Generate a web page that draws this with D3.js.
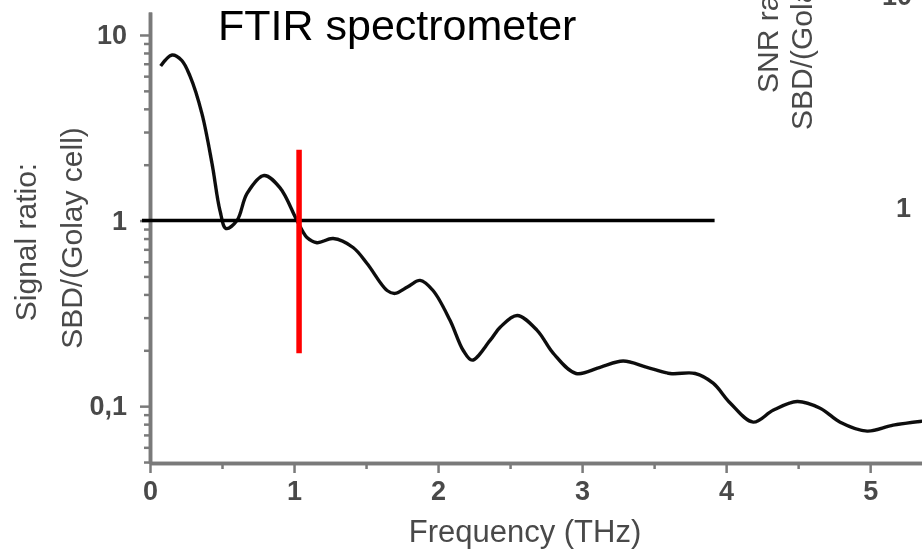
<!DOCTYPE html>
<html>
<head>
<meta charset="utf-8">
<script src="https://cdn.jsdelivr.net/npm/d3@7"></script>
<style>
  html, body { margin: 0; padding: 0; background: #fff; }
  svg { display: block; }
  text { font-family: "Liberation Sans", Arial, Helvetica, sans-serif; }
</style>
</head>
<body>
<svg id="chart" width="922" height="557"></svg>
<script>
// Signal ratio of SBD vs. Golay cell measured with an FTIR spectrometer
const freqTHz = [0.074, 0.153, 0.220, 0.278, 0.361, 0.431, 0.486, 0.528, 0.604, 0.674, 0.792,
  0.903, 1.021, 1.090, 1.160, 1.271, 1.410, 1.507, 1.646, 1.701, 1.790,
  1.875, 1.965, 2.083, 2.174, 2.236, 2.361, 2.431, 2.549, 2.688, 2.799,
  2.958, 3.125, 3.285, 3.451, 3.611, 3.785, 3.910, 4.028, 4.188, 4.326,
  4.493, 4.653, 4.792, 4.979, 5.160, 5.361];
const signalRatio = [6.8, 7.8, 7.3, 6.0, 3.76, 2.02, 1.13, 0.906, 1.0, 1.40, 1.75,
  1.50, 1.0, 0.81, 0.76, 0.80, 0.716, 0.587, 0.42, 0.405, 0.44,
  0.476, 0.42, 0.29, 0.20, 0.177, 0.226, 0.266, 0.308, 0.256, 0.193,
  0.150, 0.162, 0.175, 0.162, 0.150, 0.150, 0.133, 0.104, 0.082, 0.095,
  0.106, 0.0975, 0.082, 0.0734, 0.079, 0.083];

const xTickValues = [0, 1, 2, 3, 4, 5];
const xTickLabels = ["0", "1", "2", "3", "4", "5"];
const yTickValues = [0.1, 1, 10];
const yTickLabels = ["0,1", "1", "10"];

// Reference markers: unity ratio line and crossover frequency
const unityLine = { from: -0.056, to: 3.92, value: 1 };
const crossover = { freq: 1.035, low: 0.193, high: 2.41 };

const W = 922, H = 557;
const margin = { left: 150, top: 12, bottom: 94 };
const plotBottom = H - margin.bottom;

const svg = d3.select("#chart");

const x = d3.scaleLinear().domain([0, 5.36]).range([margin.left, W]);
const y = d3.scaleLog().domain([0.0494, 13.3]).range([plotBottom, margin.top]);

// soft rendering for the underlying plot
const defs = svg.append("defs");
defs.append("filter").attr("id", "soft")
  .append("feGaussianBlur").attr("stdDeviation", 0.55);

const base = svg.append("g").attr("filter", "url(#soft)");

const axisColor = "#7a7a7a";
const labelColor = "#4a4a4a";

function styleAxis(g, withLabels) {
  g.select(".domain").attr("stroke", axisColor).attr("stroke-width", 3.5);
  g.selectAll(".tick line").attr("stroke", axisColor).attr("stroke-width", 2.5);
  if (withLabels) {
    g.selectAll(".tick text")
      .attr("fill", labelColor)
      .style("font-size", "27px")
      .style("font-weight", "bold");
  } else {
    g.selectAll(".tick text").remove();
  }
}

// x axis: minor ticks, then major ticks with labels
const xMinor = x.ticks(10).filter(d => !xTickValues.includes(d));
base.append("g")
  .attr("transform", `translate(0,${plotBottom})`)
  .call(d3.axisBottom(x).tickValues(xMinor).tickSize(6).tickSizeOuter(0))
  .call(g => styleAxis(g, false));
base.append("g")
  .attr("transform", `translate(0,${plotBottom})`)
  .call(d3.axisBottom(x).tickValues(xTickValues)
    .tickFormat((d, i) => xTickLabels[i]).tickSize(10).tickSizeOuter(0).tickPadding(8))
  .call(g => styleAxis(g, true));

// y axis (log)
const isMajor = d => yTickValues.some(v => Math.abs(v - d) < 1e-9);
const yMinor = y.ticks().filter(d => !isMajor(d));
base.append("g")
  .attr("transform", `translate(${margin.left},0)`)
  .call(d3.axisLeft(y).tickValues(yMinor).tickSize(6).tickSizeOuter(0))
  .call(g => styleAxis(g, false));
base.append("g")
  .attr("transform", `translate(${margin.left},0)`)
  .call(d3.axisLeft(y).tickValues(yTickValues)
    .tickFormat((d, i) => yTickLabels[i]).tickSize(10).tickSizeOuter(0).tickPadding(13))
  .call(g => styleAxis(g, true));

// axis titles
base.append("text")
  .attr("x", 525).attr("y", 542)
  .attr("text-anchor", "middle")
  .attr("fill", labelColor)
  .style("font-size", "31px")
  .text("Frequency (THz)");

base.append("text")
  .attr("transform", "translate(36,242) rotate(-90)")
  .attr("text-anchor", "middle")
  .attr("fill", labelColor)
  .style("font-size", "30px")
  .text("Signal ratio:");
base.append("text")
  .attr("transform", "translate(82,238) rotate(-90)")
  .attr("text-anchor", "middle")
  .attr("fill", labelColor)
  .style("font-size", "30px")
  .text("SBD/(Golay cell)");

// neighbouring SNR panel, cut at the right edge
base.append("text")
  .attr("transform", "translate(778,93) rotate(-90)")
  .attr("fill", labelColor)
  .style("font-size", "30px")
  .text("SNR ratio:");
base.append("text")
  .attr("transform", "translate(812,130) rotate(-90)")
  .attr("fill", labelColor)
  .style("font-size", "30px")
  .text("SBD/(Golay cell)");
base.append("text")
  .attr("x", 912).attr("y", 5)
  .attr("text-anchor", "end")
  .attr("fill", labelColor)
  .style("font-size", "27px").style("font-weight", "bold")
  .text("10");
base.append("text")
  .attr("x", 911).attr("y", 208)
  .attr("dy", "0.35em")
  .attr("text-anchor", "end")
  .attr("fill", labelColor)
  .style("font-size", "27px").style("font-weight", "bold")
  .text("1");

// measured curve
const points = freqTHz.map((f, i) => [f, signalRatio[i]]);
base.append("path")
  .datum(points)
  .attr("fill", "none")
  .attr("stroke", "#111")
  .attr("stroke-width", 3.4)
  .attr("stroke-linejoin", "round")
  .attr("d", d3.line()
    .x(d => x(d[0]))
    .y(d => y(d[1]))
    .curve(d3.curveCatmullRom.alpha(0.5)));

// overlays
svg.append("line")
  .attr("x1", x(unityLine.from)).attr("x2", x(unityLine.to))
  .attr("y1", y(unityLine.value)).attr("y2", y(unityLine.value))
  .attr("stroke", "#000").attr("stroke-width", 3.5);

svg.append("line")
  .attr("x1", x(crossover.freq)).attr("x2", x(crossover.freq))
  .attr("y1", y(crossover.high)).attr("y2", y(crossover.low))
  .attr("stroke", "#ff0000").attr("stroke-width", 5.5);

svg.append("text")
  .attr("x", 218).attr("y", 40)
  .attr("fill", "#000")
  .style("font-size", "43px")
  .text("FTIR spectrometer");
</script>
</body>
</html>
